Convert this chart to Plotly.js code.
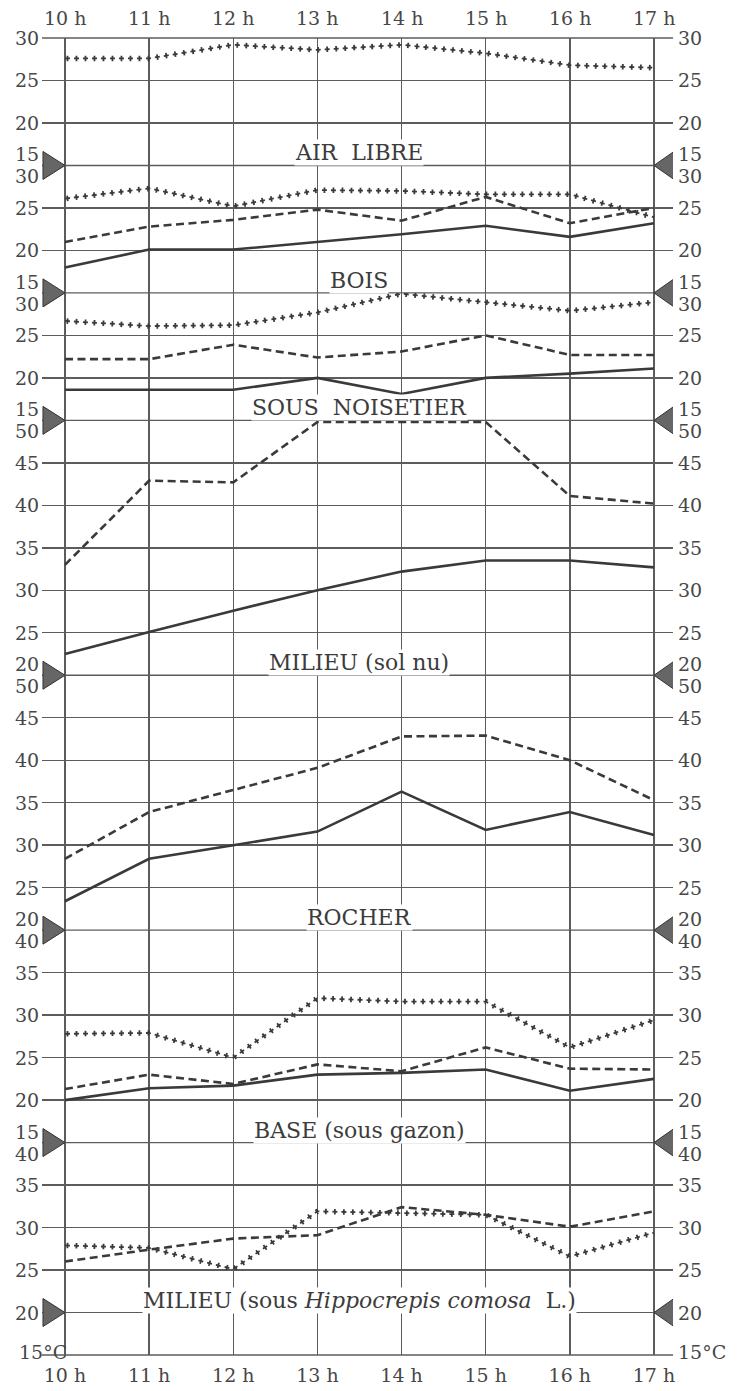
<!DOCTYPE html>
<html><head><meta charset="utf-8">
<script src="https://cdn.plot.ly/plotly-3.0.1.min.js"></script>
<style>html,body{margin:0;padding:0;background:#fff}</style>
</head><body><div id="chart" style="width:738px;height:1391px"></div>
<script>
// ---- data ----
const hours = [10, 11, 12, 13, 14, 15, 16, 17];
const hourLabels = ['10 h', '11 h', '12 h', '13 h', '14 h', '15 h', '16 h', '17 h'];

const panelTitles = [
  'AIR  LIBRE', 'BOIS', 'SOUS  NOISETIER', 'MILIEU (sol nu)', 'ROCHER',
  'BASE (sous gazon)', 'MILIEU (sous <i>Hippocrepis comosa</i>  L.)'
];
const panelRanges = [[15, 30], [15, 30], [15, 30], [20, 50], [20, 50], [15, 40], [15, 40]];
const panelTitleLevels = [15, 15, 15, 20, 20, 15, 20];
const panelTickVals = [
  [15, 20, 25, 30], [15, 20, 25, 30], [15, 20, 25, 30],
  [20, 25, 30, 35, 40, 45, 50], [20, 25, 30, 35, 40, 45, 50],
  [15, 20, 25, 30, 35, 40], [15, 20, 25, 30, 35, 40]
];
const bottomUnitLabel = '15°C';

const airLibreDotted   = [27.6, 27.6, 29.2, 28.6, 29.2, 28.2, 26.8, 26.5];
const boisDotted       = [26.1, 27.3, 25.2, 27.1, 27.0, 26.6, 26.6, 23.9];
const boisDashed       = [21.0, 22.8, 23.6, 24.8, 23.5, 26.3, 23.2, 25.0];
const boisSolid        = [18.0, 20.1, 20.1, 21.0, 21.9, 22.9, 21.6, 23.2];
const noisetierDotted  = [26.7, 26.1, 26.2, 27.7, 29.9, 28.9, 27.9, 28.9];
const noisetierDashed  = [22.2, 22.2, 23.9, 22.4, 23.1, 25.0, 22.7, 22.7];
const noisetierSolid   = [18.6, 18.6, 18.6, 20.0, 18.1, 20.0, 20.5, 21.1];
const solNuDashed      = [33.0, 42.9, 42.7, 49.8, 49.8, 49.8, 41.1, 40.2];
const solNuSolid       = [22.5, 25.1, 27.6, 30.0, 32.2, 33.5, 33.5, 32.7];
const rocherDashed     = [28.4, 33.9, 36.5, 39.1, 42.8, 42.9, 40.0, 35.3];
const rocherSolid      = [23.4, 28.4, 30.0, 31.6, 36.3, 31.8, 33.9, 31.2];
const baseDotted       = [27.8, 27.9, 25.0, 32.0, 31.6, 31.6, 26.2, 29.4];
const baseDashed       = [21.3, 23.0, 21.9, 24.2, 23.4, 26.2, 23.7, 23.6];
const baseSolid        = [20.0, 21.4, 21.7, 23.0, 23.2, 23.6, 21.1, 22.5];
const hippoDotted      = [27.9, 27.6, 25.1, 31.9, 31.7, 31.5, 26.6, 29.4];
const hippoDashed      = [26.0, 27.4, 28.7, 29.1, 32.4, 31.5, 30.1, 31.9];

const seriesList = [
  {panel: 0, values: airLibreDotted, style: 'dotted'},
  {panel: 1, values: boisDotted, style: 'dotted'},
  {panel: 1, values: boisDashed, style: 'dashed'},
  {panel: 1, values: boisSolid, style: 'solid'},
  {panel: 2, values: noisetierDotted, style: 'dotted'},
  {panel: 2, values: noisetierDashed, style: 'dashed'},
  {panel: 2, values: noisetierSolid, style: 'solid'},
  {panel: 3, values: solNuDashed, style: 'dashed'},
  {panel: 3, values: solNuSolid, style: 'solid'},
  {panel: 4, values: rocherDashed, style: 'dashed'},
  {panel: 4, values: rocherSolid, style: 'solid'},
  {panel: 5, values: baseDotted, style: 'dotted'},
  {panel: 5, values: baseDashed, style: 'dashed'},
  {panel: 5, values: baseSolid, style: 'solid'},
  {panel: 6, values: hippoDotted, style: 'dotted'},
  {panel: 6, values: hippoDashed, style: 'dashed'}
];

// ---- styling ----
const INK = '#3a3a3a';
const GRID = '#5c5c5c';
const TEXT = '#474747';
const FONT = 'DejaVu Serif, Liberation Serif, serif';
const tickFont = {family: FONT, size: 19, color: TEXT};

const yName = i => (i === 0 ? 'y' : 'y' + (i + 1));
const yAxisKey = i => (i === 0 ? 'yaxis' : 'yaxis' + (i + 1));

const traces = [];
seriesList.forEach(s => {
  const base = {x: hours, y: s.values, xaxis: 'x', yaxis: yName(s.panel),
    mode: 'lines', hoverinfo: 'skip', showlegend: false};
  if (s.style === 'solid') {
    traces.push(Object.assign({}, base, {line: {color: INK, width: 2.6}}));
  } else if (s.style === 'dashed') {
    traces.push(Object.assign({}, base, {line: {color: INK, width: 2.6, dash: '8px,4.5px'}}));
  } else {
    traces.push(Object.assign({}, base, {line: {color: INK, width: 1.8, dash: '5px,4px'}}));
    traces.push(Object.assign({}, base, {line: {color: INK, width: 5.5, dash: '0px,1.6px,1.8px,5.6px'}}));
  }
});

const layout = {
  width: 738, height: 1391,
  margin: {l: 42, r: 65, t: 38, b: 36},
  paper_bgcolor: '#fff', plot_bgcolor: 'rgba(0,0,0,0)',
  showlegend: false,
  xaxis: {
    range: [9.727, 17.226], anchor: yName(6), side: 'bottom',
    tickvals: hours, ticktext: hourLabels, tickfont: tickFont,
    showgrid: true, gridcolor: GRID, gridwidth: 1.4,
    zeroline: false, showline: false, ticks: '', ticklabelstandoff: 7, fixedrange: true
  },
  annotations: [],
  shapes: []
};

const boundaryLine = (yref, yv) => ({type: 'line', layer: 'below', xref: 'paper', x0: 0, x1: 1,
  yref: yref, y0: yv, y1: yv, line: {color: GRID, width: 1.4}});

const spans = panelRanges.map(r => r[1] - r[0]);
const totalSpan = spans.reduce((a, b) => a + b, 0);
let domTop = 1;
panelRanges.forEach((r, i) => {
  const domBottom = i === panelRanges.length - 1 ? 0 : domTop - spans[i] / totalSpan;
  layout[yAxisKey(i)] = {
    domain: [domBottom, domTop], range: r, anchor: 'x',
    tickvals: panelTickVals[i], showticklabels: false,
    showgrid: true, gridcolor: GRID, gridwidth: 1.4,
    zeroline: false, showline: false, ticks: '', fixedrange: true
  };
  domTop = domBottom;
  const domRef = yName(i) + ' domain';

  layout.shapes.push(boundaryLine(domRef, 1));
  if (i === panelRanges.length - 1) layout.shapes.push(boundaryLine(domRef, 0));

  panelTickVals[i].forEach(v => {
    let txt = String(v);
    let shift = 0;
    const isTop = v === r[1], isBottom = v === r[0];
    if (isTop && i > 0) shift = -11;
    if (isBottom && i < panelRanges.length - 1) shift = 11;
    const last = isBottom && i === panelRanges.length - 1;
    if (last) { txt = bottomUnitLabel; shift = 3; }
    if (last) {
      layout.annotations.push({xref: 'x', yref: yName(i), x: hours[0], y: v, text: txt,
        xanchor: 'right', yanchor: 'middle', xshift: 4, yshift: shift, showarrow: false, font: tickFont});
    } else {
      layout.annotations.push({xref: 'paper', yref: yName(i), x: 0, y: v, text: txt,
        xanchor: 'right', yanchor: 'middle', xshift: -1, yshift: shift, showarrow: false, font: tickFont});
    }
    layout.annotations.push({xref: 'paper', yref: yName(i), x: 1, y: v, text: txt,
      xanchor: 'left', yanchor: 'middle', xshift: 3, yshift: shift, showarrow: false, font: tickFont});
  });

  layout.annotations.push({xref: 'x', yref: yName(i), x: 13.5, y: panelTitleLevels[i],
    text: panelTitles[i], xanchor: 'center', yanchor: 'bottom', yshift: -1,
    showarrow: false, bgcolor: '#fff', borderpad: 0,
    font: {family: FONT, size: 22, color: '#3c3c3c'}});

  const levelFrac = (panelTitleLevels[i] - r[0]) / (r[1] - r[0]);
  layout.shapes.push({type: 'path', xref: 'x', yref: domRef, xsizemode: 'pixel', ysizemode: 'pixel',
    xanchor: hours[0], yanchor: levelFrac, path: 'M -22 -14 L 0 0 L -22 14 Z',
    fillcolor: '#666', line: {color: '#333', width: 1}});
  layout.shapes.push({type: 'path', xref: 'x', yref: domRef, xsizemode: 'pixel', ysizemode: 'pixel',
    xanchor: hours[hours.length - 1], yanchor: levelFrac, path: 'M 20 -14 L 0 0 L 20 14 Z',
    fillcolor: '#666', line: {color: '#333', width: 1}});
});

hours.forEach((h, k) => {
  layout.annotations.push({xref: 'x', yref: 'paper', x: h, y: 1, text: hourLabels[k],
    xanchor: 'center', yanchor: 'bottom', yshift: 7, showarrow: false, font: tickFont});
});

Plotly.newPlot('chart', traces, layout, {displayModeBar: false, staticPlot: true});
</script>
</body></html>
